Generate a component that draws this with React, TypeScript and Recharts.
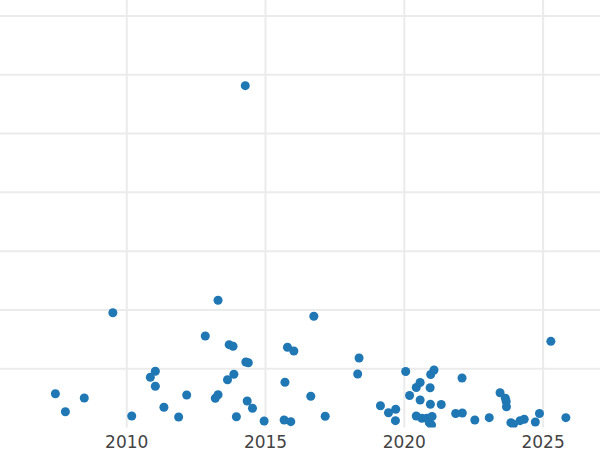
import React from "react";
import { ScatterChart, Scatter, XAxis, YAxis, ReferenceLine } from "recharts";

const years: number[] = [
  2009.5, 2013.29, 2007.43, 2007.79, 2008.47, 2010.18, 2011.03, 2010.85, 2011.03, 2011.34,
  2011.87, 2012.16, 2012.83, 2013.69, 2013.83, 2014.29, 2014.38, 2013.86, 2013.63, 2013.29,
  2013.19, 2014.34, 2014.53, 2013.95, 2014.95, 2015.7, 2015.79, 2016.02, 2015.67, 2015.91,
  2014.27, 2016.74, 2016.63, 2017.15, 2018.37, 2018.32, 2019.14, 2019.43, 2019.69, 2019.68,
  2020.05, 2020.19, 2020.43, 2020.57, 2020.57, 2020.43, 2020.63, 2020.81, 2020.9, 2020.98,
  2021.0, 2020.95, 2021.07, 2020.93, 2020.94, 2021.33, 2021.85, 2022.09, 2022.08, 2022.54,
  2023.06, 2023.45, 2023.64, 2023.67, 2023.68, 2023.84, 2023.93, 2024.17, 2024.32, 2024.72,
  2024.87, 2025.28, 2025.82,
];

const values: number[] = [
  19.53, 21.64, 5.75, 2.69, 5.02, 1.96, 9.56, 8.54, 7.01, 3.44,
  1.79, 5.53, 15.57, 14.09, 13.81, 11.14, 11.02, 9.05, 8.13, 5.58,
  4.97, 4.51, 3.27, 1.84, 1.11, 7.69, 13.64, 13.01, 1.28, 0.99,
  58.15, 18.92, 5.31, 1.91, 11.82, 9.1, 3.71, 2.52, 3.1, 1.16,
  9.53, 5.44, 6.8, 7.66, 4.68, 1.96, 1.57, 1.57, 0.82, 0.43,
  1.87, 9.02, 9.78, 6.77, 3.95, 3.91, 2.38, 2.47, 8.42, 1.28,
  1.67, 5.92, 4.97, 4.42, 3.54, 0.82, 0.54, 1.16, 1.4, 0.94,
  2.38, 14.66, 1.67,
];

const xTicks: number[] = [2010, 2015, 2020, 2025];
const yTicks: number[] = [10, 20, 30, 40, 50, 60, 70];

const data = years.map((x, i) => ({ x, y: values[i] }));

export default function App() {
  return (
    <div style={{ position: "absolute", left: 0, top: 0, width: 600, height: 450, background: "#fff" }}>
      <ScatterChart width={600} height={450} margin={{ top: 0, right: 0, bottom: 0, left: 0 }}>
        <XAxis
          type="number"
          dataKey="x"
          domain={[2005.434, 2027.05]}
          ticks={xTicks}
          allowDataOverflow
          axisLine={false}
          tickLine={false}
          height={22.5}
          tick={{ fill: "#444", fontSize: 17, fontFamily: "DejaVu Sans" }}
        />
        <YAxis
          type="number"
          dataKey="y"
          domain={[0, 72.72]}
          ticks={yTicks}
          allowDataOverflow
          hide
          width={0}
        />
        {yTicks.map((t) => (
          <ReferenceLine key={"h" + t} y={t} stroke="#ebebeb" strokeWidth={2} />
        ))}
        {xTicks.map((t) => (
          <ReferenceLine key={"v" + t} x={t} stroke="#ebebeb" strokeWidth={2} />
        ))}
        <Scatter data={data} fill="#1f77b4" isAnimationActive={false} />
      </ScatterChart>
    </div>
  );
}
